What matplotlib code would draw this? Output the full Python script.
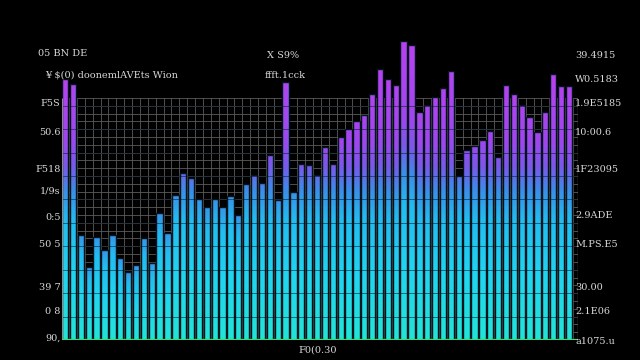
import numpy as np
import matplotlib.pyplot as plt
from matplotlib.colors import LinearSegmentedColormap
from matplotlib.path import Path

# bar heights (grid top = 100)
heights = [107.9, 105.8, 43.4, 30.2, 42.6, 37.2, 43.4, 33.9, 28.1, 31.0,
           42.1, 31.8, 52.5, 44.2, 59.9, 69.0, 66.9, 58.3, 55.0, 58.3,
           55.0, 59.5, 51.7, 64.5, 68.2, 64.9, 76.4, 57.9, 106.6, 61.2,
           72.7, 72.3, 68.2, 79.8, 72.7, 83.9, 87.2, 90.5, 93.0, 101.7,
           112.0, 107.9, 105.4, 123.6, 121.9, 94.2, 97.1, 100.4, 104.1, 111.2,
           67.8, 78.5, 80.2, 82.6, 86.4, 75.6, 105.4, 101.7, 97.1, 92.1,
           86.0, 94.2, 109.9, 105.0, 105.0]

left_ticks = [1, 12, 22, 40, 51, 62, 71, 86, 98]
left_labels = ["90,", "0 8", "39 7", "50 5", "0:5", "1/9s", "F518", "50.6", "F5S"]
right_ticks = [0, 12, 22, 40, 52, 71, 86, 98, 108, 118]
right_labels = ["a1075.u", "2.1E06", "30.00", "M.PS.E5", "2.9ADE",
                "1F23095", "10:00.6", "1.9E5185", "W0.5183", "39.4915"]

title_a = "05 BN DE"
title_b = "¥ $(0) doonemlAVEts Wion"
mid_a = "X S9%"
mid_b = "ffft.1cck"
bottom_label = "F0(0.30"

bg = "#000000"
txt = "#d8d8d8"
cmap = LinearSegmentedColormap.from_list("glow", [
    (0.00, "#22e4d8"), (0.25, "#20d4f0"), (0.45, "#22bcf0"),
    (0.56, "#3a8ee8"), (0.65, "#7a58ea"), (0.75, "#a046ee"),
    (1.00, "#b842f0")])

fig = plt.figure(figsize=(6.4, 3.6), dpi=100, facecolor=bg)
ax = fig.add_axes([62 / 640, 20 / 360, 516 / 640, 305 / 360])
ax.set_facecolor(bg)

n = len(heights)
x = np.arange(n)
h = np.array(heights)
ax.set_xlim(-0.4, n + 0.15)
ax.set_ylim(0, 126)

# fine grid behind the bars
gx = np.arange(-0.5, n + 0.1, 1.0)
gy = np.linspace(0, 100, 32)
ax.vlines(gx, 0, 100, color="#5c5c5c", lw=0.6, zorder=1)
ax.hlines(gy, -0.4, n + 0.15, color="#5c5c5c", lw=0.6, zorder=1)

bars = ax.bar(x, heights, width=0.8, facecolor="none",
              edgecolor="#04141c", lw=1.0, zorder=4)

# colour runs from cyan at the foot to purple at the top of each bar
rows = np.linspace(0, 126, 320).reshape(-1, 1)
scale = np.clip(h / 110.0, 0.55, 1.0)
field = np.clip(rows / h, 0, 1) * scale
img = ax.imshow(field, cmap=cmap, origin="lower", aspect="auto",
                extent=[-0.5, n - 0.5, 0, 126], vmin=0, vmax=1, zorder=2)
paths = [b.get_path().transformed(b.get_patch_transform()) for b in bars]
img.set_clip_path(Path.make_compound_path(*paths), ax.transData)

# faint dark bands across the bars
ax.hlines(gy[::3], -0.4, n + 0.15, color="#0a2030", lw=0.7, alpha=0.6, zorder=3)

ax.vlines([-0.4, n + 0.15], 0, 100, color="#8a8a8a", lw=0.9, zorder=5)
ax.hlines(0, -0.6, n + 0.15, color="#30e07a", lw=1.6, zorder=5)

for s in ax.spines.values():
    s.set_visible(False)
ax.set_xticks([])
ax.set_yticks(left_ticks)
ax.set_yticklabels(left_labels, fontsize=7, color=txt, family="DejaVu Serif")
ax.tick_params(axis="y", length=0, pad=1)

ax2 = ax.twinx()
ax2.set_ylim(ax.get_ylim())
for s in ax2.spines.values():
    s.set_visible(False)
ax2.set_yticks(right_ticks)
ax2.set_yticklabels(right_labels, fontsize=7, color=txt, family="DejaVu Serif")
ax2.tick_params(axis="y", length=0, pad=-2)

fig.text(38 / 640, 1 - 53 / 360, title_a, fontsize=7, color=txt,
         family="DejaVu Serif", va="center")
fig.text(45 / 640, 1 - 75 / 360, title_b, fontsize=7, color=txt,
         family="DejaVu Serif", va="center")
fig.text(283 / 640, 1 - 55 / 360, mid_a, fontsize=7, color=txt,
         family="DejaVu Serif", va="center", ha="center")
fig.text(285 / 640, 1 - 75 / 360, mid_b, fontsize=7, color=txt,
         family="DejaVu Serif", va="center", ha="center")
fig.text(318 / 640, 1 - 350 / 360, bottom_label, fontsize=7, color=txt,
         family="DejaVu Serif", va="center", ha="center")

fig.savefig("out.png", dpi=100, facecolor=bg)
